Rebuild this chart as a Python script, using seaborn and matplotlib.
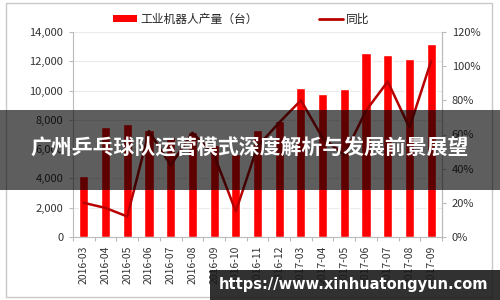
import matplotlib
matplotlib.use("Agg")
import matplotlib.pyplot as plt
import matplotlib.ticker as mticker
from matplotlib.patches import Rectangle, Patch
from matplotlib.lines import Line2D
import numpy as np
import pandas as pd
import seaborn as sns

# ---- data ----
months = ["2016-03", "2016-04", "2016-05", "2016-06", "2016-07", "2016-08",
          "2016-09", "2016-10", "2016-11", "2016-12", "2017-03", "2017-04",
          "2017-05", "2017-06", "2017-07", "2017-08", "2017-09"]
output_units = [4200, 7500, 7700, 7300, 6800, 7200, 6300, 5700, 7300, 7900,
                10200, 9800, 10100, 12600, 12450, 12150, 13150]
yoy_pct = [20, 17, 12, 62, 42, 61, 48, 15, 53, 67, 80, 58, 48, 74, 91, 64, 103]
left_ticks = [0, 2000, 4000, 6000, 8000, 10000, 12000, 14000]
right_ticks = [0, 20, 40, 60, 80, 100, 120]
bar_label = "工业机器人产量（台）"
line_label = "同比"
title_text = "广州乒乓球队运营模式深度解析与发展前景展望"
url_text = "https://www.xinhuatongyun.com"

sns.set_theme(style="white")
plt.rcParams["font.family"] = ["Noto Sans CJK SC", "DejaVu Sans"]

df = pd.DataFrame({"month": months, "units": output_units, "yoy": yoy_pct})

fig = plt.figure(figsize=(5, 3), dpi=100)
ax = fig.add_axes([73 / 500, 1 - 237 / 300, (442 - 73) / 500, (237 - 32) / 300])

bar_red = "#FF0000"
line_red = "#B80000"

sns.barplot(data=df, x="month", y="units", color=bar_red, saturation=1,
            width=0.42, ax=ax, zorder=2)
ax.set_xlim(-0.5, len(months) - 0.5)
ax.set_ylim(0, 14000)
ax.set_yticks(left_ticks)
ax.yaxis.set_major_formatter(mticker.FuncFormatter(lambda v, p: f"{int(v):,}"))
ax.set_xlabel("")
ax.set_ylabel("")
ax.grid(axis="y", color="#EBEBEB", linewidth=0.8, zorder=0)
ax.set_axisbelow(True)
ax.tick_params(axis="y", labelsize=8, colors="#333333", length=3, width=0.8,
               direction="out", left=True, pad=4)
ax.tick_params(axis="x", labelsize=7.5, colors="#333333", rotation=90,
               length=0, pad=6)
# category separator ticks on x axis
ax.set_xticks(np.arange(len(months) + 1) - 0.5, minor=True)
ax.tick_params(axis="x", which="minor", length=3, width=0.8, color="#BBBBBB",
               bottom=True)
for s in ["left", "bottom", "right"]:
    ax.spines[s].set_color("#BBBBBB")
    ax.spines[s].set_linewidth(0.8)
ax.spines["top"].set_visible(False)
ax.tick_params(axis="y", color="#BBBBBB", labelcolor="#333333")

ax2 = ax.twinx()
sns.lineplot(x=np.arange(len(months)), y=df["yoy"], color=line_red,
             linewidth=1.8, ax=ax2, zorder=3)
ax2.set_ylim(0, 120)
ax2.set_yticks(right_ticks)
ax2.yaxis.set_major_formatter(mticker.FuncFormatter(lambda v, p: f"{int(v)}%"))
ax2.set_ylabel("")
ax2.tick_params(axis="y", labelsize=8, labelcolor="#333333", color="#BBBBBB",
                length=3, width=0.8, direction="out", right=True, pad=4)
for s in ["left", "bottom", "right", "top"]:
    ax2.spines[s].set_visible(False)
ax2.spines["right"].set_visible(True)
ax2.spines["right"].set_color("#BBBBBB")
ax2.spines["right"].set_linewidth(0.8)
ax2.grid(False)

# legend
handles = [Patch(facecolor=bar_red, edgecolor="none", label=bar_label),
           Line2D([0], [0], color=line_red, linewidth=2, label=line_label)]
fig.legend(handles=handles, loc="center", bbox_to_anchor=(0.483, 1 - 19 / 300),
           ncol=2, frameon=False, fontsize=8.5, handlelength=2.0,
           handleheight=0.5, handletextpad=0.3, columnspacing=5.2)

# outer border
fig.patches.append(Rectangle((6 / 500, 3 / 300), 486 / 500, 294 / 300,
                             transform=fig.transFigure, fill=False,
                             edgecolor="#C8C8C8", linewidth=1, zorder=0))

# dark overlay band with title
fig.patches.append(Rectangle((0, 1 - 190 / 300), 1, 80 / 300,
                             transform=fig.transFigure, facecolor="black",
                             alpha=0.63, edgecolor="none", zorder=10))
fig.text(0.5, 1 - 147 / 300, title_text, color="white", fontsize=15,
         fontweight="bold", ha="center", va="center", zorder=11)

# url box
fig.patches.append(Rectangle((210 / 500, 0), 290 / 500, 30 / 300,
                             transform=fig.transFigure, facecolor="#1A1A1A",
                             alpha=0.9, edgecolor="none", zorder=10))
fig.text(354 / 500, 1 - 285 / 300, url_text, color="white", fontsize=10.5,
         fontweight="bold", ha="center", va="center", zorder=11,
         family=["DejaVu Sans"])

fig.savefig("out.png", dpi=100)
